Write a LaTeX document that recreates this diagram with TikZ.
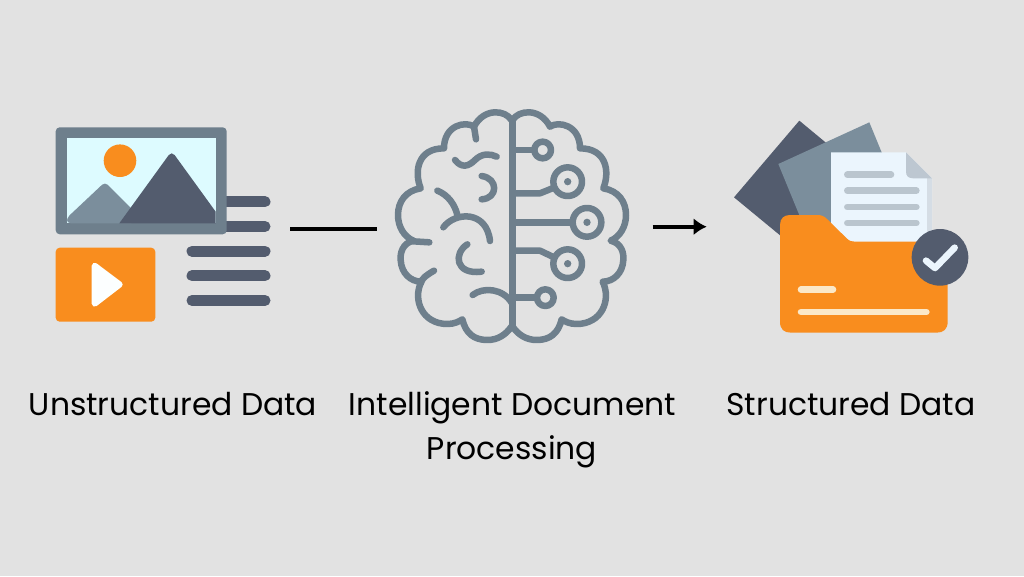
\documentclass[tikz,border=0pt]{standalone}
\usepackage{fontspec}
\setmainfont{Poppins}
\usetikzlibrary{arrows.meta}
\definecolor{bgc}{HTML}{E2E2E2}
\definecolor{slatec}{HTML}{6E7F8C}
\definecolor{darkc}{HTML}{535C6E}
\definecolor{grayc}{HTML}{7B8E9C}
\definecolor{orgc}{HTML}{F98D1E}
\definecolor{skyc}{HTML}{DDFBFF}
\definecolor{paperc}{HTML}{EBF5FD}
\definecolor{shadec}{HTML}{D5DDE5}
\definecolor{foldc}{HTML}{BDC7D1}
\definecolor{plinec}{HTML}{BAC5CE}
\definecolor{creamc}{HTML}{FBE8C8}
\tikzset{
 x=1pt,y=-1pt,
 zoomed/.style={x=0.33333pt,y=-0.33333pt},
 tline/.style={line width=11pt,line cap=round,darkc},
 br/.style={line width=6.5pt,slatec,line cap=round,line join=round},
 lbl/.style={font=\fontsize{31.4}{44}\selectfont,text=black,align=center},
 conn/.style={line width=4.4pt,black},
}
\begin{document}
\begin{tikzpicture}
\path[fill=bgc] (0,0) rectangle (1024,576);
\useasboundingbox (0,0) rectangle (1024,576);
% left icon
\foreach \yy in {201.8,226.5,251.2,275.8,300.5}{\draw[tline] (192,\yy) -- (265,\yy);}
\fill[slatec,rounded corners=4pt] (55.7,127.3) rectangle (226.7,234.3);
\fill[skyc] (66.7,138.3) rectangle (215.7,223.3);
\fill[orgc] (120,160.7) circle[radius=16.3];
\fill[grayc,rounded corners=4pt] (66.7,218) -- (105,182) -- (135,212) -- (135,223.3) -- (66.7,223.3) -- cycle;
\fill[darkc] (119.3,223.3) [rounded corners=5pt] -- (171.7,151) [sharp corners] -- (215.7,211.7) -- (215.7,223.3) -- cycle;
\fill[orgc,rounded corners=4pt] (55.7,247.7) rectangle (155.3,321.7);
\fill[white!90!skyc,draw=white!90!skyc,line width=6pt,line join=round] (94.7,265.7) -- (119.7,284.5) -- (94.7,303.7) -- cycle;
% brain
\begin{scope}[xshift=380pt,yshift=-100pt,zoomed]
\foreach \s/\o in {1/0,-1/792}{
\begin{scope}[xscale=\s,xshift=\o*0.33333pt*\s]
\draw[br] (398,60) .. controls (415,30) and (480,22) .. (510,80)
 .. controls (535,62) and (600,75) .. (600,145)
 .. controls (680,145) and (690,215) .. (670,265)
 .. controls (715,272) and (738,305) .. (738,345)
 .. controls (738,380) and (720,410) .. (692,422)
 .. controls (725,430) and (732,460) .. (730,480)
 .. controls (728,520) and (700,545) .. (668,545)
 .. controls (695,600) and (665,672) .. (590,672)
 .. controls (570,672) and (555,665) .. (545,658)
 .. controls (535,700) and (510,720) .. (470,720)
 .. controls (440,720) and (415,705) .. (398,680);
\end{scope}}
\draw[br] (282,80) -- (288,118);
\draw[br] (100,424) -- (148,427);
\draw[br] (122,550) .. controls (125,535) and (140,525) .. (162,512);
\draw[br] (225,180) .. controls (245,205) and (265,200) .. (285,180) .. controls (305,160) and (330,160) .. (350,170);
\draw[br] (305,228) .. controls (355,235) and (355,295) .. (305,298);
\draw[br] (172,272) .. controls (205,285) and (225,315) .. (232,345);
\draw[br] (190,382) .. controls (225,335) and (320,330) .. (330,423);
\draw[br] (262,433) .. controls (220,460) and (225,525) .. (305,515);
\draw[br] (278,585) .. controls (310,560) and (370,565) .. (396,610);
\draw[br,line width=7.3pt,line cap=butt] (397,52) -- (397,688);
\draw[br,line cap=butt] (400,150) -- (463,150);
\draw[br] (488,150) circle[radius=25];
\draw[br,line cap=butt,line join=round] (400,280) -- (480,280) -- (522,263);
\draw[br] (563,245) circle[radius=43];
\fill[slatec] (563,245) circle[radius=11];
\draw[br,line width=7.3pt,line cap=butt] (400,367) -- (578,367);
\draw[br] (621,367) circle[radius=43];
\fill[slatec] (621,367) circle[radius=11];
\draw[br,line cap=butt,line join=round] (400,452) -- (480,452) -- (522,472);
\draw[br] (563,491) circle[radius=43];
\fill[slatec] (563,491) circle[radius=11];
\draw[br,line cap=butt] (400,593) -- (471,593);
\draw[br] (496,593) circle[radius=25];
\end{scope}
% folder
\begin{scope}[xshift=720pt,yshift=-110pt,zoomed]
\fill[darkc] (238,32) -- (42,262) -- (270,450) -- (465,220) -- cycle;
\fill[grayc] (175,162) -- (448,37) -- (560,310) -- (285,430) -- cycle;
\fill[paperc] (333,127) -- (558,127) -- (636,205) -- (636,420) -- (333,420) -- cycle;
\fill[shadec] (620,205) rectangle (636,420);
\fill[foldc] (558,127) -- (636,205) -- (580,205) .. controls (565,205) and (558,198) .. (558,185) -- cycle;
\foreach \yy/\xx in {194/513,242/589,291/589,339/589}{
 \draw[plinec,line width=6.6pt,line cap=round] (382,\yy) -- (\xx,\yy);}
\fill[orgc] (180,345) .. controls (180,325) and (192,315) .. (210,315) -- (290,315)
 .. controls (305,315) and (312,318) .. (322,328) -- (380,385)
 .. controls (388,393) and (395,395) .. (405,395) -- (683,395) -- (683,635)
 .. controls (683,658) and (670,668) .. (650,668) -- (213,668)
 .. controls (192,668) and (180,658) .. (180,635) -- cycle;
\draw[creamc,line width=6.6pt,line cap=round] (243,539) -- (339,539);
\draw[creamc,line width=6.6pt,line cap=round] (243,606) -- (619,606);
\fill[darkc] (660,442) circle[radius=85];
\draw[paperc,line width=6.6pt,line cap=round,line join=round] (618,452) -- (645,474) -- (704,413);
\end{scope}
% connectors
\coordinate (c1a) at (290,229);
\coordinate (c1b) at (377,229);
\coordinate (c2a) at (652.7,226.7);
\coordinate (c2b) at (706.7,226.7);
\draw[conn] (c1a) -- (c1b);
\draw[conn,-{Latex[length=13pt,width=17pt]}] (c2a) -- (c2b);
% labels
\node[lbl,anchor=base] (t1) at (173,415) {Unstructured Data};
\node[lbl,anchor=base] (t2) at (512.5,415) {Intelligent Document};
\node[lbl,anchor=base] (t3) at (512,459) {Processing};
\node[lbl,anchor=base] (t4) at (851,415) {Structured Data};
\end{tikzpicture}
\end{document}
